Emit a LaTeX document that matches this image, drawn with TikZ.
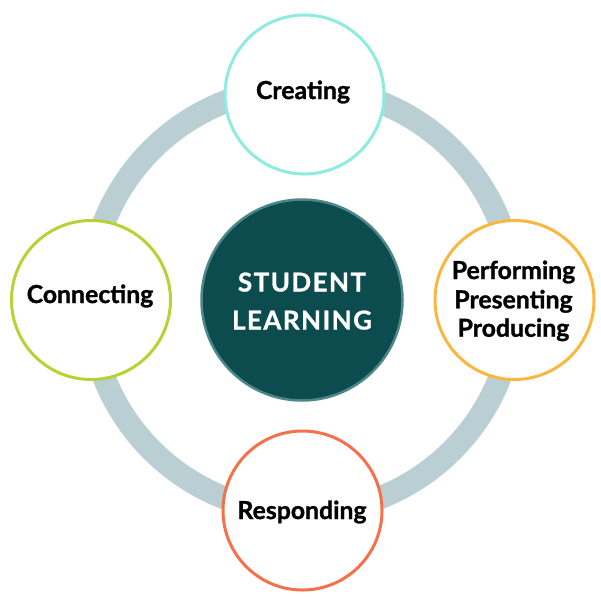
\documentclass[tikz,border=0pt]{standalone}
\usepackage{fontspec}
\setmainfont{Lato}
\definecolor{ringc}{HTML}{BACFD3}
\definecolor{creatc}{HTML}{8EEBE0}
\definecolor{perfc}{HTML}{F9B740}
\definecolor{connc}{HTML}{B6D334}
\definecolor{respc}{HTML}{F4714C}
\definecolor{centc}{HTML}{0C4C4E}
\definecolor{centb}{HTML}{4E8789}
\tikzset{
  ringstyle/.style={draw=ringc, line width=23pt},
  phase/.style={circle, fill=white, line width=3pt, minimum size=159pt, inner sep=0pt},
  lab/.style={anchor=base, font=\bfseries\fontsize{24.8}{29}\selectfont\addfontfeatures{FakeBold=1.2}, text=black, align=center},
  hub/.style={circle, fill=centc, draw=centb, line width=2.5pt, minimum size=201pt, inner sep=0pt},
  hublab/.style={anchor=base, font=\bfseries\fontsize{26}{38}\selectfont\addfontfeatures{LetterSpace=5.5,FakeBold=1}, text=white},
}
\begin{document}
\begin{tikzpicture}[x=1pt,y=-1pt]
\useasboundingbox (0,0) rectangle (601,597);
\coordinate (o) at (302,300);
\draw[ringstyle] (o) circle (212.5);
\node[hub] (hubc) at (o) {};
\node[hublab] (stud) at (302,291.5) {STUDENT};
\node[hublab] (lear) at (302,329.5) {LEARNING};
\node[phase, draw=creatc] (creat) at (304.5,94.5) {};
\node[phase, draw=perfc] (perf) at (514.5,300) {};
\node[phase, draw=connc] (conn) at (91,300) {};
\node[phase, draw=respc] (resp) at (302.5,510.5) {};
\node[lab] (creatt) at (303,99) {Creating};
\node[lab] (connt) at (90,303) {Connecting};
\node[lab] (respt) at (302,519) {Responding};
\node[lab] (perf1) at (513.5,279) {Performing};
\node[lab] (perf2) at (513.5,308.3) {Presenting};
\node[lab] (perf3) at (513.5,336.7) {Producing};
\end{tikzpicture}
\end{document}
